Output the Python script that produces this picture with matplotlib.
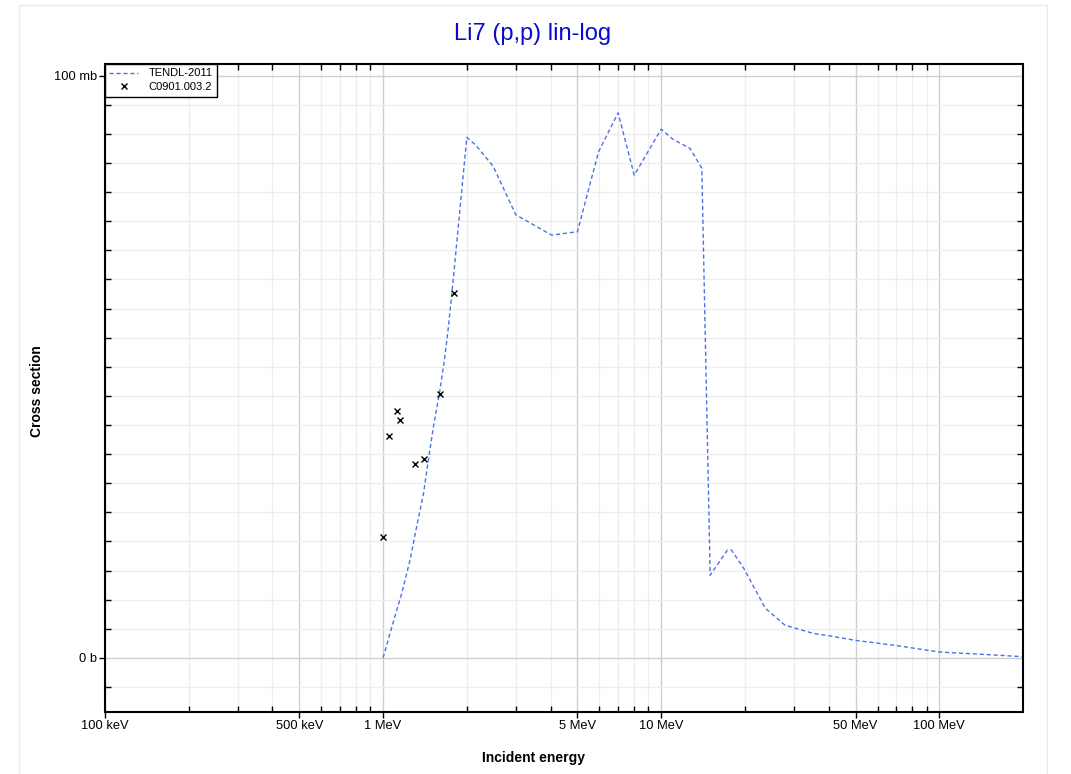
import numpy as np
import matplotlib
matplotlib.use('Agg')
import matplotlib.pyplot as plt
from matplotlib.ticker import FixedLocator, FixedFormatter, NullFormatter
from matplotlib.patches import Rectangle

plt.rcParams['font.family'] = ['Liberation Sans', 'DejaVu Sans']

# TENDL-2011 evaluation (energy in MeV, cross section in mb)
tendl_e = [1.0, 1.075, 1.167, 1.25, 1.32, 1.397, 1.455, 1.517, 1.594, 1.662, 1.718, 1.767, 1.815,
           2.0, 2.15, 2.49, 3.0, 4.04, 5.0, 5.95, 7.0, 8.0, 10.0, 11.0, 12.7, 14.0,
           15.0, 17.3, 17.9, 19.8, 23.7, 27.9, 35.2, 40.0, 50.0, 70.5, 100.0, 144.0, 200.0]
tendl_xs = [0.0, 5.3, 11.1, 16.8, 22.5, 28.2, 34.0, 39.7, 45.4, 51.2, 56.9, 62.6, 68.3,
            89.4, 88.1, 84.4, 76.1, 72.6, 73.2, 86.9, 93.6, 82.9, 90.8, 89.1, 87.5, 84.1,
            14.2, 18.5, 18.5, 15.4, 8.5, 5.6, 4.2, 3.8, 3.0, 2.1, 1.0, 0.6, 0.2]

# EXFOR C0901.003.2
exp_e = [1.0, 1.051, 1.123, 1.151, 1.303, 1.405, 1.604, 1.806]
exp_xs = [20.7, 38.1, 42.4, 40.9, 33.3, 34.2, 45.4, 62.6]

x_major = [0.1, 0.5, 1, 5, 10, 50, 100]
x_major_labels = ['100 keV', '500 keV', '1 MeV', '5 MeV', '10 MeV', '50 MeV', '100 MeV']
x_minor = [m * d for d in [0.1, 1, 10, 100] for m in [2, 3, 4, 6, 7, 8, 9] if m * d < 200]
y_major = [0, 100]
y_major_labels = ['0 b', '100 mb']

fig = plt.figure(figsize=(10.71, 7.74), dpi=100)
fig.patches.append(Rectangle((19 / 1071, -0.01), (1047 - 19) / 1071, 1.0 - 5 / 774 + 0.01,
                             transform=fig.transFigure, fill=False, edgecolor='#ebebeb', lw=1))
ax = fig.add_axes([105 / 1071, 1 - 712 / 774, (1023 - 105) / 1071, (712 - 64) / 774])

ax.set_xscale('log')
ax.set_xlim(0.1, 200)
ax.set_ylim(-9.3, 102)

ax.xaxis.set_major_locator(FixedLocator(x_major))
ax.xaxis.set_major_formatter(FixedFormatter(x_major_labels))
ax.xaxis.set_minor_locator(FixedLocator(x_minor))
ax.xaxis.set_minor_formatter(NullFormatter())
ax.yaxis.set_major_locator(FixedLocator(y_major))
ax.yaxis.set_major_formatter(FixedFormatter(y_major_labels))
ax.yaxis.set_minor_locator(FixedLocator(list(range(-5, 101, 5))))

ax.grid(which='major', color='#cfcfcf', lw=1)
ax.grid(which='minor', color='#eeeeee', lw=1)
ax.set_axisbelow(True)

ax.tick_params(which='major', direction='out', length=4, width=1, labelsize=9.3, pad=2)
ax.tick_params(which='minor', direction='in', length=4, width=1, top=True, right=True)
for s in ax.spines.values():
    s.set_linewidth(1.5)

ax.plot(tendl_e, tendl_xs, color='#4a72e8', lw=1, dashes=(3, 2), label='TENDL-2011')
ax.plot(exp_e, exp_xs, 'x', color='black', ms=5, mew=1, label='C0901.003.2')

# axis labels and title are centred on the figure, not the axes
fig.text(534 / 1071, 1 - 758 / 774, 'Incident energy', fontsize=10, fontweight='bold',
         ha='center', va='center')
fig.text(37 / 1071, 1 - 391 / 774, 'Cross section', fontsize=10, fontweight='bold',
         ha='center', va='center', rotation=90)
fig.text(533 / 1071, 1 - 34 / 774, 'Li7 (p,p) lin-log', color='#0a0acc', fontsize=17,
         ha='center', va='center')

leg = ax.legend(loc='upper left', bbox_to_anchor=(0, 1), borderaxespad=0, fontsize=8,
                fancybox=False, edgecolor='black', framealpha=1, handlelength=2.6,
                borderpad=0.4, labelspacing=0.35, handletextpad=0.9)
leg.get_frame().set_linewidth(1)

fig.savefig('out.png', dpi=100)
